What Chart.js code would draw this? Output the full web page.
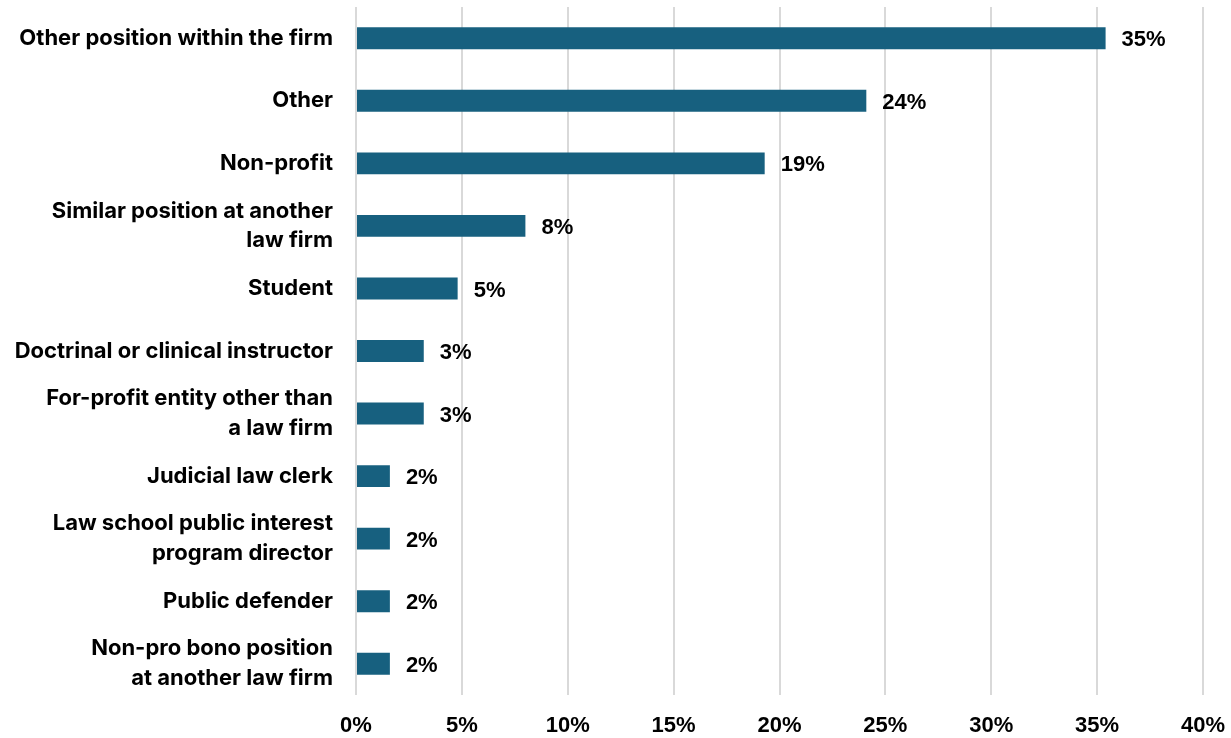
<!DOCTYPE html>
<html>
<head>
<meta charset="utf-8">
<script src="https://cdn.jsdelivr.net/npm/chart.js@4/dist/chart.umd.min.js"></script>
<style>
html,body{margin:0;padding:0;background:#fff;}
#wrap{width:1231px;height:738px;position:relative;}
</style>
</head>
<body>
<div id="wrap"><canvas id="c"></canvas></div>
<script>
const categories = [
  "Other position within the firm",
  "Other",
  "Non-profit",
  ["Similar position at another", "law firm"],
  "Student",
  "Doctrinal or clinical instructor",
  ["For-profit entity other than", "a law firm"],
  "Judicial law clerk",
  ["Law school public interest", "program director"],
  "Public defender",
  ["Non-pro bono position", "at another law firm"]
];
const values = [35.4, 24.1, 19.3, 8.0, 4.8, 3.2, 3.2, 1.6, 1.6, 1.6, 1.6];
const valueLabels = ["35%", "24%", "19%", "8%", "5%", "3%", "3%", "2%", "2%", "2%", "2%"];
const xTicks = [0, 5, 10, 15, 20, 25, 30, 35, 40];

const labelPlugin = {
  id: 'valueLabels',
  afterDatasetsDraw(chart) {
    const ctx = chart.ctx;
    const meta = chart.getDatasetMeta(0);
    ctx.save();
    ctx.font = 'bold 22px "Liberation Sans", Arial, sans-serif';
    ctx.fillStyle = '#000';
    ctx.textAlign = 'left';
    ctx.textBaseline = 'middle';
    meta.data.forEach((bar, i) => {
      ctx.fillText(valueLabels[i], bar.x + 16, bar.y + 2);
    });
    ctx.restore();
  }
};

new Chart(document.getElementById('c'), {
  type: 'bar',
  data: {
    labels: categories,
    datasets: [{
      data: values,
      backgroundColor: '#17607f',
      borderWidth: 0,
      barPercentage: 0.35,
      categoryPercentage: 1.0
    }]
  },
  options: {
    indexAxis: 'y',
    responsive: true,
    maintainAspectRatio: false,
    animation: false,
    layout: { padding: { top: 7, right: 28, bottom: 0, left: 0 } },
    plugins: { legend: { display: false }, tooltip: { enabled: false } },
    scales: {
      x: {
        min: 0, max: 40,
        afterBuildTicks(scale) { scale.ticks = xTicks.map(v => ({ value: v })); },
        afterFit(scale) { scale.paddingLeft = 0; scale.paddingRight = 0; scale.paddingBottom = 0; scale.paddingTop = 0; scale.height = 43; },
        grid: { color: '#d9d9d9', lineWidth: 2, drawTicks: false },
        border: { display: false },
        ticks: {
          padding: 18,
          color: '#000',
          font: { family: '"Liberation Sans", Arial, sans-serif', size: 22, weight: 'bold' },
          callback: v => v + '%'
        }
      },
      y: {
        grid: { display: false, drawTicks: false },
        border: { display: false },
        afterFit(scale) { scale.width = 356; scale.paddingTop = 0; scale.paddingBottom = 0; },
        ticks: {
          padding: 23,
          color: '#000',
          font: { family: 'Inter, sans-serif', size: 22, weight: 'bold', lineHeight: 1.35 }
        }
      }
    }
  },
  plugins: [labelPlugin]
});
</script>
</body>
</html>
